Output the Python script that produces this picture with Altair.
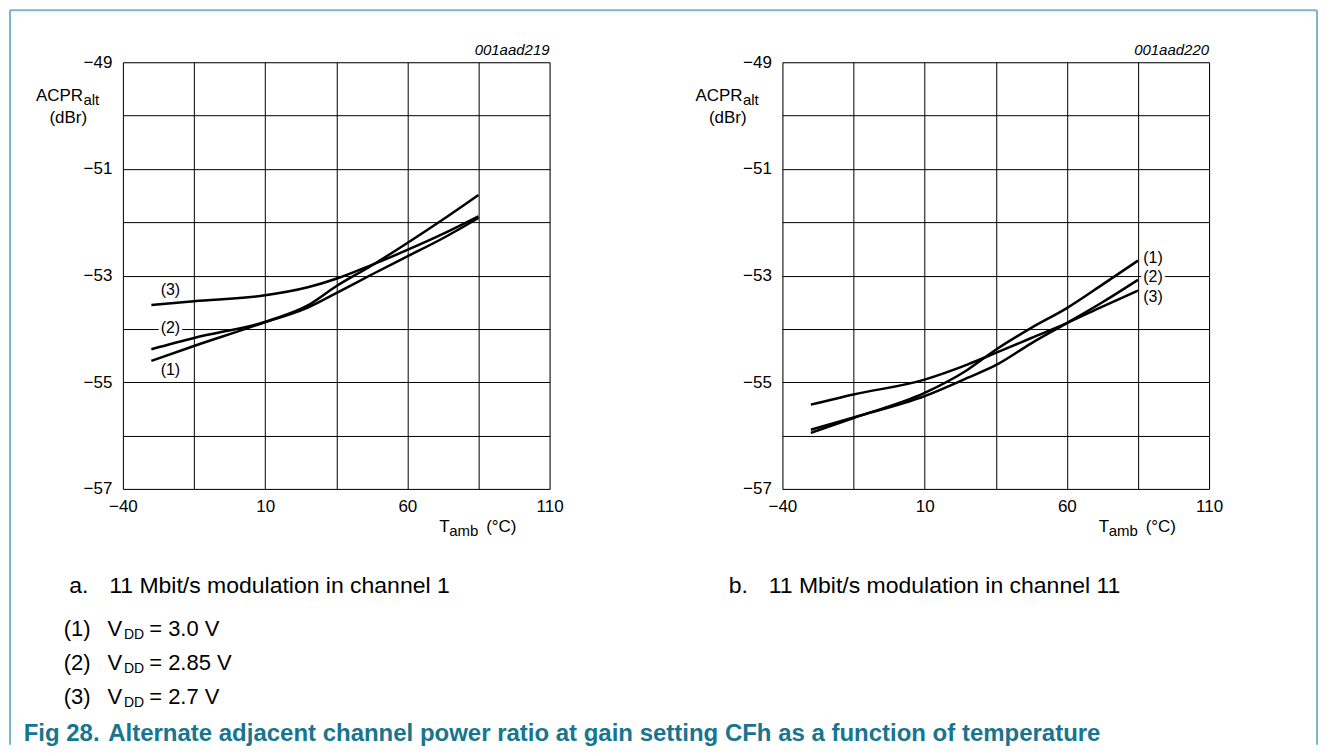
import altair as alt
import pandas as pd

# ---- data ----
TEMPS = [-30, -15, 10, 25, 35, 47.5, 60, 72.5, 85]

# panel a: channel 1
A_VDD30 = [-54.60, -54.32, -53.87, -53.56, -53.20, -52.81, -52.39, -51.95, -51.49]
A_VDD285 = [-54.38, -54.17, -53.87, -53.60, -53.33, -52.98, -52.64, -52.30, -51.92]
A_VDD27 = [-53.55, -53.48, -53.37, -53.22, -53.06, -52.80, -52.52, -52.22, -51.89]

# panel b: channel 11
B_VDD30 = [-55.95, -55.67, -55.20, -54.77, -54.39, -53.98, -53.61, -53.17, -52.72]
B_VDD285 = [-55.89, -55.66, -55.26, -54.92, -54.68, -54.27, -53.89, -53.50, -53.08]
B_VDD27 = [-55.42, -55.23, -54.95, -54.67, -54.45, -54.17, -53.89, -53.58, -53.28]

CURVE_NAMES = ["(1)", "(2)", "(3)"]

A_LABEL_T = [-23.3, -23.3, -23.3]
A_LABEL_Y = [-54.77, -53.98, -53.27]
B_LABEL_T = [90.3, 90.3, 90.3]
B_LABEL_Y = [-52.67, -53.03, -53.41]

X_GRID = [-40, -15, 10, 35, 60, 85, 110]
X_LABELS = [-40, 10, 60, 110]
Y_GRID = [-57, -56, -55, -54, -53, -52, -51, -50, -49]

LEGEND_ROWS = [("(1)", "3.0 V"), ("(2)", "2.85 V"), ("(3)", "2.7 V")]

FONT = "Liberation Sans"
W = 427
H = 427
FRAME = "#7ab8c4"
TITLE_COLOR = "#17758f"


def curve_df(s1, s2, s3):
    rows = []
    for name, series in zip(CURVE_NAMES, [s1, s2, s3]):
        for t, v in zip(TEMPS, series):
            rows.append({"T": t, "ACPR": v, "curve": name})
    return pd.DataFrame(rows)


def one():
    return pd.DataFrame({"k": [0]})


def txt(text, x, y, size=17, align="left", italic=False, bold=False, color="black"):
    return alt.Chart(one()).mark_text(
        text=text, align=align, baseline="alphabetic", font=FONT, fontSize=size,
        fontStyle="italic" if italic else "normal",
        fontWeight="bold" if bold else "normal", color=color,
    ).encode(x=alt.value(x), y=alt.value(y))


xscale = alt.Scale(domain=[-40, 110], nice=False, zero=False)
yscale = alt.Scale(domain=[-57, -49], nice=False, zero=False)

label_list = ", ".join(str(v) for v in X_LABELS)
xaxis = alt.Axis(
    values=X_GRID, title=None, grid=True, ticks=False, domain=False,
    labelExpr="indexof([" + label_list + "], datum.value) >= 0 ? datum.label : ''",
    labelPadding=10, labelFontSize=17, labelColor="black", labelFont=FONT,
    labelFlush=False, labelOverlap=False, labelBound=False,
    gridColor="black", gridOpacity=1, gridWidth=1,
)
yaxis = alt.Axis(
    values=Y_GRID, title=None, grid=True, ticks=False, domain=False,
    labelExpr="datum.value % 2 != 0 ? datum.label : ''",
    labelPadding=11, labelFontSize=17, labelColor="black", labelFont=FONT,
    labelFlush=False, labelOverlap=False, labelBound=False,
    gridColor="black", gridOpacity=1, gridWidth=1,
)


def panel(df, lab_t, lab_y, code, letter, caption, right_side):
    base = alt.Chart(df)
    lines = base.mark_line(color="black", strokeWidth=2.5, interpolate="monotone").encode(
        x=alt.X("T:Q", scale=xscale, axis=xaxis),
        y=alt.Y("ACPR:Q", scale=yscale, axis=yaxis),
        detail="curve:N",
    )
    ldf = pd.DataFrame({"T": lab_t, "ACPR": lab_y, "label": CURVE_NAMES})
    halo = alt.Chart(ldf).mark_text(
        font=FONT, fontSize=16, color="white", stroke="white", strokeWidth=6,
        align="center", baseline="middle",
    ).encode(x=alt.X("T:Q", scale=xscale), y=alt.Y("ACPR:Q", scale=yscale), text="label:N")
    labs = alt.Chart(ldf).mark_text(
        font=FONT, fontSize=16, color="black", align="center", baseline="middle",
    ).encode(x=alt.X("T:Q", scale=xscale), y=alt.Y("ACPR:Q", scale=yscale), text="label:N")

    layers = [halo, lines, labs]
    # axis titles with subscripts
    layers += [
        txt("ACPR", -87, 39),
        txt("alt", -39.5, 42.5, size=15),
        txt("(dBr)", -73.5, 61),
        txt("T", 316.5, 470),
        txt("amb", 326.5, 474, size=15),
        txt("(°C)", 363.5, 470),
        txt(code, W, -7, size=15, align="right", italic=True),
        txt(letter, -53.7, 531, size=23),
        txt(caption, -13.7, 531, size=23),
    ]
    if not right_side:
        for i, (num, volt) in enumerate(LEGEND_ROWS):
            yb = 574 + i * 34.2
            layers += [
                txt(num, -59.3, yb, size=22),
                txt("V", -15.3, yb, size=22),
                txt("DD", 1, yb + 3, size=14),
                txt("= " + volt, 26.3, yb, size=22),
            ]
        layers.append(txt("Fig 28.", -99.3, 679, size=24, bold=True, color=TITLE_COLOR))
        layers.append(txt(
            "Alternate adjacent channel power ratio at gain setting CFh as a function of temperature",
            -14.7, 679, size=24, bold=True, color=TITLE_COLOR))
        # frame: left and top edges
        layers.append(alt.Chart(one()).mark_rule(color=FRAME, strokeWidth=2).encode(
            x=alt.value(-113), y=alt.value(-52), y2=alt.value(683)))
        layers.append(alt.Chart(one()).mark_rule(color=FRAME, strokeWidth=2).encode(
            x=alt.value(-113), x2=alt.value(1195), y=alt.value(-52)))
    else:
        layers.append(alt.Chart(one()).mark_rule(color=FRAME, strokeWidth=2).encode(
            x=alt.value(535), y=alt.value(-52), y2=alt.value(683)))
    return alt.layer(*layers).properties(width=W, height=H)


left = panel(curve_df(A_VDD30, A_VDD285, A_VDD27), A_LABEL_T, A_LABEL_Y,
             "001aad219", "a.", "11 Mbit/s modulation in channel 1", False)
right = panel(curve_df(B_VDD30, B_VDD285, B_VDD27), B_LABEL_T, B_LABEL_Y,
              "001aad220", "b.", "11 Mbit/s modulation in channel 11", True)

chart = alt.hconcat(left, right, spacing=233, bounds="flush").properties(
    padding=0, background="white"
).configure_view(stroke="black", strokeWidth=1).configure(font=FONT)

chart.save("out.html", embed_options={"renderer": "svg", "actions": False})
